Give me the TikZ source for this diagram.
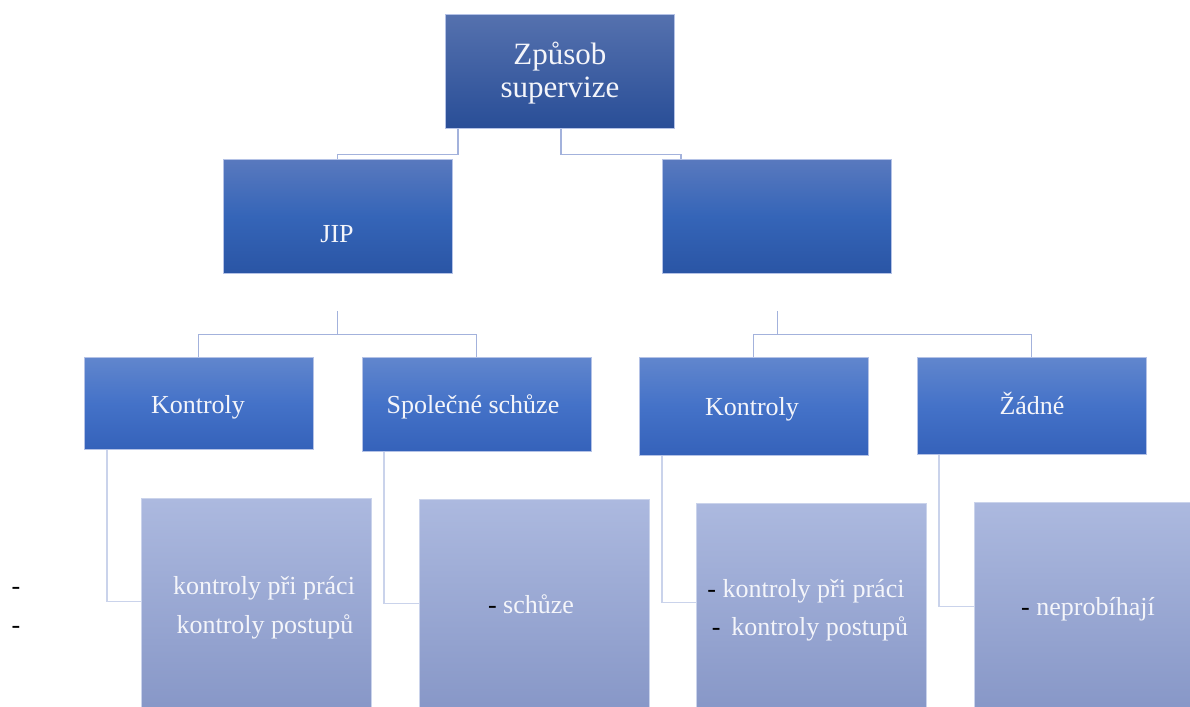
\documentclass[tikz,border=0pt]{standalone}
\usepackage{fontspec}
\setmainfont{Liberation Serif}
\usetikzlibrary{calc}
\definecolor{lvAtop}{HTML}{5571AE}
\definecolor{lvAbot}{HTML}{294E97}
\definecolor{lvBtop}{HTML}{5979BE}
\definecolor{lvBmid}{HTML}{3565B8}
\definecolor{lvBbot}{HTML}{2A55A5}
\definecolor{lvCtop}{HTML}{6186CD}
\definecolor{lvCmid}{HTML}{4472C8}
\definecolor{lvCbot}{HTML}{3562BA}
\definecolor{lvDtop}{HTML}{ACB9DF}
\definecolor{lvDbot}{HTML}{8797C7}
\definecolor{connA}{HTML}{A3B2DC}
\definecolor{connB}{HTML}{CAD3EB}
\definecolor{edgeC}{HTML}{B4C2E6}
\definecolor{txtw}{HTML}{F4F5FA}
\tikzset{
  box/.style={anchor=north west, inner sep=0pt, draw=edgeC, line width=0.8pt},
  boxA/.style={box, top color=lvAtop, bottom color=lvAbot, minimum width=229pt, minimum height=114pt},
  boxB/.style={box, top color=lvBtop, bottom color=lvBbot, middle color=lvBmid, minimum width=229pt, minimum height=114pt},
  boxC/.style={box, top color=lvCtop, bottom color=lvCbot, middle color=lvCmid, minimum width=229pt},
  boxD/.style={box, draw=connB, top color=lvDtop, bottom color=lvDbot, minimum width=230pt},
  lbl/.style={text=txtw, font=\fontsize{26}{30}\selectfont, inner sep=0pt, anchor=base},
  bulletmark/.style={text=black, font=\fontsize{26}{30}\selectfont, inner sep=0pt, anchor=base},
  connU/.style={draw=connA, line width=1.1pt},
  connL/.style={draw=connB, line width=1.1pt},
}
\begin{document}
\begin{tikzpicture}[x=1pt,y=-1pt]
\useasboundingbox (0,0) rectangle (1190,706);
% level 1
\node[boxA] (top) at (445,14) {};
\node[text=txtw, font=\fontsize{31}{33}\selectfont, align=center, inner sep=0pt] (toptxt) at ($(top.center)+(0,2)$) {Způsob\\supervize};
% level 2
\node[boxB] (jip) at (223,159) {};
\node[boxB] (other) at (662,159) {};
\node[lbl] (jiptxt) at (337,242) {JIP};
% level 3
\node[boxC, minimum height=92pt] (k1) at (84,357) {};
\node[boxC, minimum height=94pt] (k2) at (362,357) {};
\node[boxC, minimum height=98pt] (k3) at (639,357) {};
\node[boxC, minimum height=97pt] (k4) at (917,357) {};
\node[lbl] (k1t) at (198,413) {Kontroly};
\node[lbl] (k2t) at (473,413) {Společné schůze};
\node[lbl] (k3t) at (752,415) {Kontroly};
\node[lbl] (k4t) at (1032,414) {Žádné};
% level 4
\node[boxD, minimum height=212pt] (d1) at (141,498) {};
\node[boxD, minimum height=211pt] (d2) at (419,499) {};
\node[boxD, minimum height=207pt] (d3) at (696,503) {};
\node[boxD, minimum height=208pt] (d4) at (974,502) {};
% connectors level 1 -> 2
\draw[connU] ([xshift=13pt]top.south west) -- ++(0,26) -| (jip.north);
\draw[connU] ([xshift=116pt]top.south west) -- ++(0,26) -| ([xshift=19pt]other.north west);
% connectors level 2 -> 3
\coordinate (jipb) at ($(jip.south)+(0,37)$);
\coordinate (othb) at ($(other.south)+(1,37)$);
\draw[connU] (jipb) -- ++(0,24) coordinate (jipm);
\draw[connU] (k1.north) |- (jipm) -| (k2.north);
\draw[connU] (othb) -- ++(0,24) coordinate (othm);
\draw[connU] (k3.north) |- (othm) -| (k4.north);
% connectors level 3 -> 4
\draw[connL] ([xshift=23pt]k1.south west) |- ([yshift=3pt]d1.west);
\draw[connL] ([xshift=22pt]k2.south west) |- ([yshift=1.5pt]d2.west);
\draw[connL] ([xshift=23pt]k3.south west) |- ([yshift=4.5pt]d3.west);
\draw[connL] ([xshift=22pt]k4.south west) |- ([yshift=0pt]d4.west);
% level 4 texts
\node[lbl] (t1a) at (264,594) {kontroly při práci};
\node[lbl] (t1b) at (265,633) {kontroly postupů};
\node[bulletmark] (m1a) at (16,594) {-};
\node[bulletmark] (m1b) at (16,633) {-};
\node[lbl] (t2) at (531,613) {\textcolor{black}{-} schůze};
\node[lbl] (t3a) at (806,597) {\textcolor{black}{-} kontroly při práci};
\node[lbl] (t3b) at (810,635) {\textcolor{black}{-}\, kontroly postupů};
\node[lbl] (t4) at (1088,615) {\textcolor{black}{-} neprobíhají};
\end{tikzpicture}
\end{document}
